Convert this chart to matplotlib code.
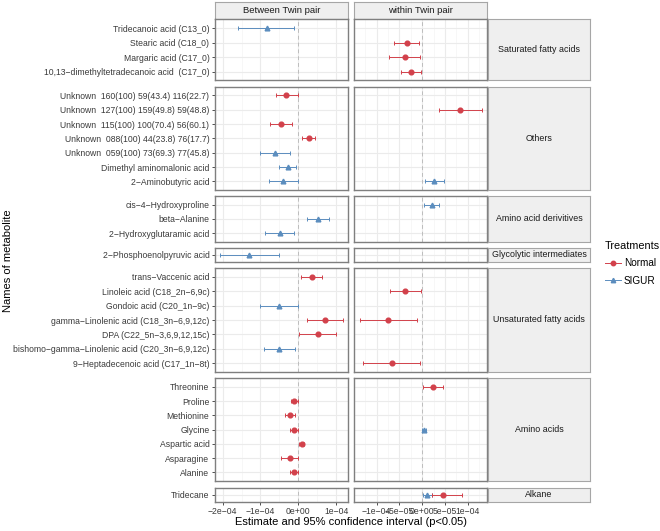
import matplotlib
matplotlib.use("Agg")
import matplotlib.pyplot as plt
from matplotlib.lines import Line2D
from matplotlib.ticker import FixedLocator
import numpy as np

plt.rcParams['font.family'] = ['Liberation Sans', 'DejaVu Sans']

# ---------------- data ----------------
groups = ["Saturated fatty acids", "Others", "Amino acid derivitives",
          "Glycolytic intermediates", "Unsaturated fatty acids", "Amino acids", "Alkane"]

metabolites = {
    "Saturated fatty acids": ["Tridecanoic acid (C13_0)", "Stearic acid (C18_0)",
                              "Margaric acid (C17_0)", "10,13\u2212dimethyltetradecanoic acid  (C17_0)"],
    "Others": ["Unknown  160(100) 59(43.4) 116(22.7)", "Unknown  127(100) 159(49.8) 59(48.8)",
               "Unknown  115(100) 100(70.4) 56(60.1)", "Unknown  088(100) 44(23.8) 76(17.7)",
               "Unknown  059(100) 73(69.3) 77(45.8)", "Dimethyl aminomalonic acid",
               "2\u2212Aminobutyric acid"],
    "Amino acid derivitives": ["cis\u22124\u2212Hydroxyproline", "beta\u2212Alanine",
                               "2\u2212Hydroxyglutaramic acid"],
    "Glycolytic intermediates": ["2\u2212Phosphoenolpyruvic acid"],
    "Unsaturated fatty acids": ["trans\u2212Vaccenic acid", "Linoleic acid (C18_2n\u22126,9c)",
                                "Gondoic acid (C20_1n\u22129c)",
                                "gamma\u2212Linolenic acid (C18_3n\u22126,9,12c)",
                                "DPA (C22_5n\u22123,6,9,12,15c)",
                                "bishomo\u2212gamma\u2212Linolenic acid (C20_3n\u22126,9,12c)",
                                "9\u2212Heptadecenoic acid (C17_1n\u22128t)"],
    "Amino acids": ["Threonine", "Proline", "Methionine", "Glycine", "Aspartic acid",
                    "Asparagine", "Alanine"],
    "Alkane": ["Tridecane"],
}

# (metabolite, treatment, estimate, lower, upper)
between = [
    ("Tridecanoic acid (C13_0)", "SIGUR", -0.84e-4, -1.58e-4, -0.12e-4),
    ("Unknown  160(100) 59(43.4) 116(22.7)", "Normal", -0.33e-4, -0.60e-4, -0.02e-4),
    ("Unknown  115(100) 100(70.4) 56(60.1)", "Normal", -0.46e-4, -0.75e-4, -0.16e-4),
    ("Unknown  088(100) 44(23.8) 76(17.7)", "Normal", 0.28e-4, 0.09e-4, 0.45e-4),
    ("Unknown  059(100) 73(69.3) 77(45.8)", "SIGUR", -0.62e-4, -1.00e-4, -0.22e-4),
    ("Dimethyl aminomalonic acid", "SIGUR", -0.28e-4, -0.50e-4, -0.07e-4),
    ("2\u2212Aminobutyric acid", "SIGUR", -0.40e-4, -0.77e-4, -0.02e-4),
    ("beta\u2212Alanine", "SIGUR", 0.53e-4, 0.23e-4, 0.82e-4),
    ("2\u2212Hydroxyglutaramic acid", "SIGUR", -0.49e-4, -0.87e-4, -0.12e-4),
    ("2\u2212Phosphoenolpyruvic acid", "SIGUR", -1.29e-4, -2.06e-4, -0.50e-4),
    ("trans\u2212Vaccenic acid", "Normal", 0.35e-4, 0.06e-4, 0.62e-4),
    ("Gondoic acid (C20_1n\u22129c)", "SIGUR", -0.51e-4, -1.00e-4, 0.0),
    ("gamma\u2212Linolenic acid (C18_3n\u22126,9,12c)", "Normal", 0.70e-4, 0.23e-4, 1.18e-4),
    ("DPA (C22_5n\u22123,6,9,12,15c)", "Normal", 0.51e-4, 0.03e-4, 0.99e-4),
    ("bishomo\u2212gamma\u2212Linolenic acid (C20_3n\u22126,9,12c)", "SIGUR", -0.50e-4, -0.90e-4, -0.10e-4),
    ("Proline", "Normal", -0.11e-4, -0.19e-4, -0.01e-4),
    ("Methionine", "Normal", -0.23e-4, -0.35e-4, -0.10e-4),
    ("Glycine", "Normal", -0.12e-4, -0.21e-4, -0.01e-4),
    ("Aspartic acid", "Normal", 0.09e-4, 0.02e-4, 0.16e-4),
    ("Asparagine", "Normal", -0.23e-4, -0.45e-4, 0.0),
    ("Alanine", "Normal", -0.12e-4, -0.21e-4, -0.01e-4),
]

within = [
    ("Stearic acid (C18_0)", "Normal", -3.4e-5, -6.1e-5, -0.7e-5),
    ("Margaric acid (C17_0)", "Normal", -3.8e-5, -7.2e-5, -0.5e-5),
    ("10,13\u2212dimethyltetradecanoic acid  (C17_0)", "Normal", -2.5e-5, -4.6e-5, -0.3e-5),
    ("Unknown  127(100) 159(49.8) 59(48.8)", "Normal", 8.4e-5, 3.7e-5, 13.1e-5),
    ("2\u2212Aminobutyric acid", "SIGUR", 2.6e-5, 0.7e-5, 4.7e-5),
    ("cis\u22124\u2212Hydroxyproline", "SIGUR", 2.1e-5, 0.5e-5, 3.7e-5),
    ("Linoleic acid (C18_2n\u22126,9c)", "Normal", -3.7e-5, -7.0e-5, -0.3e-5),
    ("gamma\u2212Linolenic acid (C18_3n\u22126,9,12c)", "Normal", -7.5e-5, -13.6e-5, -1.2e-5),
    ("9\u2212Heptadecenoic acid (C17_1n\u22128t)", "Normal", -6.7e-5, -13.1e-5, -0.4e-5),
    ("Threonine", "Normal", 2.4e-5, 0.15e-5, 4.5e-5),
    ("Glycine", "SIGUR", 0.4e-5, 0.0, 0.9e-5),
    ("Tridecane", "SIGUR", 1.1e-5, 0.1e-5, 2.1e-5),
    ("Tridecane", "Normal", 4.6e-5, 2.1e-5, 8.8e-5),
]

col_titles = ["Between Twin pair", "within Twin pair"]
left_ticks = [-2e-4, -1e-4, 0.0, 1e-4]
left_labels = ["\u22122e\u221204", "\u22121e\u221204", "0e+00", "1e\u221204"]
right_ticks = [-1e-4, -5e-5, 0.0, 5e-5, 1e-4]
right_labels = ["\u22121e\u221204", "\u22125e\u221205", "0e+00", "5e\u221205", "1e\u221204"]

# ---------------- style ----------------
colors = {"Normal": "#D2414B", "SIGUR": "#5B8DBE"}
markers = {"Normal": "o", "SIGUR": "^"}
W, H = 660, 531
fig = plt.figure(figsize=(W / 100, H / 100), dpi=100)

def fx(x): return x / W
def fy(y): return 1 - y / H

col_x = [(215, 348), (354, 487)]
strip_x = (488, 590)
panel_y = [(19.3, 80.3), (86.7, 190), (196, 241.7), (247.7, 262),
           (268, 372), (378.3, 481), (487.7, 501.7)]
xlims = [(-2.2e-4, 1.31e-4), (-1.5e-4, 1.425e-4)]
border_col = "#7F7F7F"
tick_col = "#3A3A3A"
fs_tick = 6.2

datasets = [between, within]
for ci in range(2):
    x0, x1 = col_x[ci]
    # column strip
    sax = fig.add_axes([fx(x0), fy(19.3), fx(x1) - fx(x0), fy(2) - fy(19.3)])
    sax.set_facecolor("#EFEFEF")
    sax.set_xticks([]); sax.set_yticks([])
    for s in sax.spines.values():
        s.set_color("#A6A6A6"); s.set_linewidth(0.8)
    sax.text(0.5, 0.5, col_titles[ci], ha="center", va="center", fontsize=6.8,
             color="#1A1A1A", transform=sax.transAxes)

    for gi, g in enumerate(groups):
        y0, y1 = panel_y[gi]
        names = metabolites[g]
        n = len(names)
        ax = fig.add_axes([fx(x0), fy(y1), fx(x1) - fx(x0), fy(y0) - fy(y1)])
        ax.set_xlim(*xlims[ci])
        if n > 1:
            ax.set_ylim(n - 1 + 0.6, -0.6)
        else:
            ax.set_ylim(0.5, -0.5)
        ticks = left_ticks if ci == 0 else right_ticks
        ax.xaxis.set_major_locator(FixedLocator(ticks))
        minors = [(ticks[i] + ticks[i + 1]) / 2 for i in range(len(ticks) - 1)]
        step = ticks[1] - ticks[0]
        minors = [ticks[0] - step / 2] + minors + [ticks[-1] + step / 2]
        ax.xaxis.set_minor_locator(FixedLocator(minors))
        ax.set_yticks(range(n))
        ax.grid(True, which="major", color="#EBEBEB", linewidth=0.8, zorder=0)
        ax.grid(True, which="minor", axis="x", color="#F4F4F4", linewidth=0.5, zorder=0)
        ax.set_axisbelow(True)
        ax.axvline(0, color="#BDBDBD", linestyle=(0, (4, 3)), linewidth=0.7, zorder=1)
        for s in ax.spines.values():
            s.set_color(border_col); s.set_linewidth(1.0)
        ax.tick_params(which="minor", length=0)
        ax.tick_params(axis="both", which="major", length=2.5, width=0.6, color="#333333",
                       labelsize=fs_tick, labelcolor=tick_col, pad=1.5)
        if ci == 0:
            ax.set_yticklabels(names)
        else:
            ax.tick_params(axis="y", length=0, labelleft=False)
        if gi == len(groups) - 1:
            ax.set_xticklabels(left_labels if ci == 0 else right_labels)
        else:
            ax.tick_params(axis="x", length=0, labelbottom=False)
        for (m, t, est, lo, hi) in datasets[ci]:
            if m in names:
                yi = names.index(m)
                ax.errorbar([est], [yi], xerr=[[est - lo], [hi - est]], fmt=markers[t],
                            color=colors[t], ecolor=colors[t], markersize=3.4,
                            elinewidth=0.7, capsize=1.6, capthick=0.7, zorder=3)

# row strips
for gi, g in enumerate(groups):
    y0, y1 = panel_y[gi]
    rax = fig.add_axes([fx(strip_x[0]), fy(y1), fx(strip_x[1]) - fx(strip_x[0]), fy(y0) - fy(y1)])
    rax.set_facecolor("#EFEFEF")
    rax.set_xticks([]); rax.set_yticks([])
    for s in rax.spines.values():
        s.set_color("#A6A6A6"); s.set_linewidth(0.8)
    rax.text(0.5, 0.5, g, ha="center", va="center", fontsize=6.4, color="#1A1A1A",
             transform=rax.transAxes)

# axis titles
fig.text(fx(351), fy(522), "Estimate and 95% confidence interval (p<0.05)",
         ha="center", va="center", fontsize=8)
fig.text(fx(8), fy(260.5), "Names of metabolite", ha="center", va="center",
         rotation=90, fontsize=8)

# legend
handles = [Line2D([0], [0], color=colors[t], marker=markers[t], markersize=3.2, linewidth=0.7)
           for t in ["Normal", "SIGUR"]]
leg = fig.legend(handles, ["Normal", "SIGUR"], title="Treatments",
                 loc="upper left", bbox_to_anchor=(fx(598), fy(234)),
                 frameon=False, fontsize=7.2, title_fontsize=7.8,
                 handlelength=1.6, handletextpad=0.3, labelspacing=0.75, borderpad=0.2)
leg._legend_box.align = "left"

fig.savefig("out.png", dpi=100)
